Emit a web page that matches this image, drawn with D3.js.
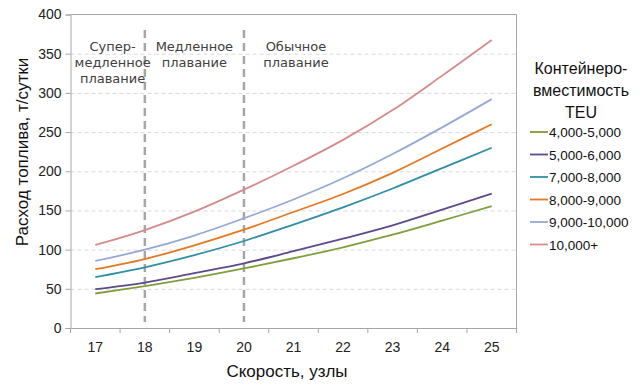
<!DOCTYPE html>
<html><head><meta charset="utf-8">
<script src="https://cdn.jsdelivr.net/npm/d3@7"></script>
<style>body{margin:0;background:#fff}svg{display:block}</style>
</head><body><svg id="c" width="640" height="390"></svg>
<script>
const speeds = ["17","18","19","20","21","22","23","24","25"];
const seriesNames = ["4,000-5,000","5,000-6,000","7,000-8,000","8,000-9,000","9,000-10,000","10,000+"];
const s4to5  = [44, 53.5, 64, 76, 89, 103, 119, 137, 155.5];
const s5to6  = [49.5, 58, 70, 82.5, 98, 114, 131, 151, 171.5];
const s7to8  = [65, 77.5, 93, 111, 132, 154, 178, 204, 230];
const s8to9  = [75, 88, 105.5, 125.5, 148, 171, 198, 229, 260];
const s9to10 = [85.5, 100, 118, 140, 164, 191, 222, 256, 292];
const s10p   = [106, 125, 148.5, 176.5, 207, 240, 278, 322, 367.5];
const yTicks = [0,50,100,150,200,250,300,350,400];
const regimeLines = ["18","20"];
const regimeLabels = [
  {at:"17", lines:["Супер-","медленное","плавание"], dx:0.35},
  {at:"19", lines:["Медленное","плавание"], dx:0},
  {at:"21", lines:["Обычное","плавание"], dx:0.05}
];
const legendTitle = ["Контейнеро-","вместимость","TEU"];
const colors = ["#7f9f3c","#5e4a8b","#2f8fa6","#e67821","#94aad6","#d48b8a"];
const allSeries = [s4to5,s5to6,s7to8,s8to9,s9to10,s10p];

const svg = d3.select("#c");
const L=70.5, R=516.5, T=14.5, B=328;
const x = d3.scaleBand().domain(speeds).range([L,R]);
const cx = d => x(d)+x.bandwidth()/2;
const y = d3.scaleLinear().domain([0,400]).range([B,T]);
const sans = "'Liberation Sans',Arial,sans-serif";

// gridlines
svg.append("g").selectAll("line").data(yTicks.filter(v=>v>0&&v<400)).join("line")
  .attr("x1",L).attr("x2",R).attr("y1",d=>y(d)+0.5).attr("y2",d=>y(d)+0.5)
  .attr("stroke","#d9d9d9").attr("stroke-width",1).attr("stroke-dasharray","4,3");

// frame top & right
svg.append("line").attr("x1",L).attr("x2",R).attr("y1",T).attr("y2",T).attr("stroke","#a6a6a6");
svg.append("line").attr("x1",R).attr("x2",R).attr("y1",T).attr("y2",B).attr("stroke","#a6a6a6");

// axes
const yAxis = svg.append("g").attr("transform",`translate(${L},0)`)
  .call(d3.axisLeft(y).tickValues(yTicks).tickSize(5).tickPadding(4));
const xAxis = svg.append("g").attr("transform",`translate(0,${B})`)
  .call(d3.axisBottom(x).tickSize(0).tickPadding(14));
[yAxis,xAxis].forEach(g=>{
  g.select(".domain").attr("stroke","#a6a6a6");
  g.selectAll(".tick line").attr("stroke","#a6a6a6");
  g.selectAll("text").attr("font-family",sans).attr("font-size",14).attr("fill","#222");
});
// x tick marks at band boundaries
svg.append("g").selectAll("line").data(speeds.concat(["end"])).join("line")
  .attr("x1",(d,i)=>L+i*x.bandwidth()).attr("x2",(d,i)=>L+i*x.bandwidth())
  .attr("y1",B).attr("y2",B+5).attr("stroke","#a6a6a6");

// regime separators
svg.append("g").selectAll("line").data(regimeLines).join("line")
  .attr("x1",d=>cx(d)).attr("x2",d=>cx(d)).attr("y1",30).attr("y2",322)
  .attr("stroke","#a6a6a6").attr("stroke-width",2.5).attr("stroke-dasharray","8,5");

// regime labels
regimeLabels.forEach(r=>{
  const t = svg.append("text").attr("text-anchor","middle")
    .attr("font-family","'DejaVu Sans',Verdana,sans-serif").attr("font-size",13).attr("fill","#404040");
  r.lines.forEach((ln,i)=>{
    t.append("tspan").attr("x",cx(r.at)+(r.dx)*x.bandwidth()).attr("y",51+i*16).text(ln);
  });
});

// lines
const line = d3.line().x((d,i)=>cx(speeds[i])).y(d=>y(d)).curve(d3.curveCatmullRom.alpha(0.5));
svg.append("g").selectAll("path").data(allSeries).join("path")
  .attr("d",line).attr("fill","none").attr("stroke",(d,i)=>colors[i]).attr("stroke-width",1.8);

// axis titles
svg.append("text").attr("transform","translate(28,152) rotate(-90)").attr("text-anchor","middle")
  .attr("font-family",sans).attr("font-size",17).attr("fill","#111").text("Расход топлива, т/сутки");
svg.append("text").attr("x",287).attr("y",377).attr("text-anchor","middle")
  .attr("font-family",sans).attr("font-size",17).attr("fill","#111").text("Скорость, узлы");

// legend
const lt = svg.append("text").attr("text-anchor","middle").attr("font-family",sans)
  .attr("font-size",16).attr("fill","#111");
legendTitle.forEach((t,i)=>lt.append("tspan").attr("x",581).attr("y",74+i*22).text(t));
const lg = svg.append("g").selectAll("g").data(seriesNames).join("g")
  .attr("transform",(d,i)=>`translate(530,${132+i*22.5})`);
lg.append("line").attr("x1",0).attr("x2",18).attr("y1",0).attr("y2",0)
  .attr("stroke",(d,i)=>colors[i]).attr("stroke-width",1.8);
lg.append("text").attr("x",19).attr("y",5).attr("font-family",sans).attr("font-size",13.5)
  .attr("fill","#111").text(d=>d);
</script></body></html>
